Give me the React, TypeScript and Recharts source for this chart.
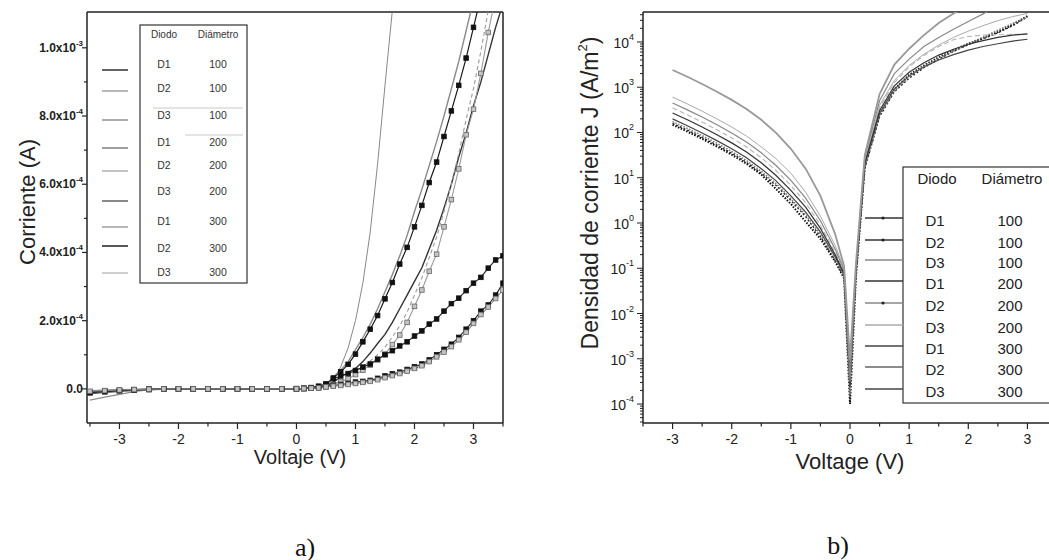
import React from 'react';
import { LineChart, Line, XAxis, YAxis, ReferenceLine, Customized } from 'recharts';

const SANS = '"Liberation Sans", Arial, Helvetica, sans-serif';
const SERIF = '"Liberation Serif", "Times New Roman", Times, serif';
const INK = '#222';

// ---------- Panel a) : current in units of 1e-4 A ----------
const voltA = [
  -3.5, -3.25, -3, -2.75, -2.5, -2.25, -2, -1.75, -1.5, -1.25, -1, -0.75, -0.5, -0.25, 0,
  0.125, 0.25, 0.375, 0.5, 0.625, 0.75, 0.875, 1,
  1.125, 1.25, 1.375, 1.5, 1.625, 1.75, 1.875, 2,
  2.125, 2.25, 2.375, 2.5, 2.625, 2.75, 2.875, 3,
  3.125, 3.25, 3.375, 3.5,
];
const aD1_100 = [
  -0.1, -0.07, -0.05, -0.03, -0.02, -0.01, 0, 0, 0, 0, 0, 0, 0, 0, 0,
  0.01, 0.03, 0.06, 0.12, 0.32, 0.5, 0.72, 1.02,
  1.38, 1.75, 2.15, 2.64, 3.12, 3.66, 4.15, 4.75,
  5.38, 6.05, 6.65, 7.4, 8.15, 8.9, 9.7, 10.6,
  11.5, null, null, null,
];
const aD2_100 = [
  -0.33, -0.24, -0.16, -0.08, -0.02, 0, 0, 0, 0, 0, 0, 0, 0, 0, 0,
  0.01, 0.03, 0.06, 0.12, 0.35, 0.55, 0.8, 1.15,
  1.5, 1.9, 2.35, 2.85, 3.35, 3.9, 4.5, 5.2,
  5.85, 6.55, 7.25, 8.0, 8.8, 9.6, 10.5, 11.4,
  null, null, null, null,
];
const aD3_100 = [
  -0.05, -0.03, -0.02, -0.01, 0, 0, 0, 0, 0, 0, 0, 0, 0, 0, 0,
  0.01, 0.02, 0.03, 0.05, 0.25, 0.65, 1.2, 2.0,
  3.1, 4.6, 6.6, 8.9, 11.1, 13.8, null, null,
  null, null, null, null, null, null, null, null,
  null, null, null, null,
];
const aD1_200 = [
  -0.14, -0.1, -0.07, -0.04, -0.02, -0.01, 0, 0, 0, 0, 0, 0, 0, 0, 0,
  0.01, 0.02, 0.04, 0.08, 0.2, 0.35, 0.48, 0.6,
  0.8, 1.05, 1.33, 1.6, 1.95, 2.35, 2.75, 3.15,
  3.55, 4.1, 4.65, 5.3, 6.0, 6.8, 7.5, 8.3,
  9.0, 9.8, 10.6, 11.3,
];
const aD2_200 = [
  -0.12, -0.09, -0.06, -0.04, -0.02, -0.01, 0, 0, 0, 0, 0, 0, 0, 0, 0,
  0.01, 0.02, 0.03, 0.05, 0.12, 0.2, 0.3, 0.42,
  0.55, 0.7, 0.85, 1.02, 1.3, 1.58, 1.95, 2.42,
  2.9, 3.45, 3.95, 4.75, 5.55, 6.45, 7.45, 8.2,
  9.25, 10.45, 11.5, null,
];
const aD3_200 = [
  -0.08, -0.06, -0.04, -0.02, -0.01, 0, 0, 0, 0, 0, 0, 0, 0, 0, 0,
  0.01, 0.02, 0.04, 0.06, 0.14, 0.24, 0.35, 0.5,
  0.65, 0.82, 1.0, 1.22, 1.52, 1.85, 2.25, 2.75,
  3.25, 3.85, 4.45, 5.2, 6.0, 6.9, 7.9, 8.8,
  9.9, 11.1, 12.2, null,
];
const aD1_300 = [
  -0.09, -0.06, -0.04, -0.02, -0.01, 0, 0, 0, 0, 0, 0, 0, 0, 0, 0.01,
  0.02, 0.04, 0.08, 0.15, 0.3, 0.38, 0.45, 0.54,
  0.64, 0.73, 0.87, 1.0, 1.12, 1.26, 1.38, 1.55,
  1.7, 1.9, 2.05, 2.28, 2.5, 2.66, 2.88, 3.1,
  3.27, 3.54, 3.78, 3.9,
];
const aD2_300 = [
  -0.11, -0.08, -0.05, -0.03, -0.01, 0, 0, 0, 0, 0, 0, 0, 0, 0, 0,
  0.01, 0.02, 0.04, 0.08, 0.1, 0.13, 0.16, 0.2,
  0.22, 0.25, 0.31, 0.38, 0.44, 0.49, 0.57, 0.65,
  0.73, 0.85, 1.0, 1.16, 1.31, 1.51, 1.75, 2.0,
  2.28, 2.46, 2.75, 3.1,
];
const aD3_300 = [
  -0.07, -0.05, -0.03, -0.02, -0.01, 0, 0, 0, 0, 0, 0, 0, 0, 0, 0,
  0.01, 0.02, 0.03, 0.06, 0.08, 0.1, 0.13, 0.16,
  0.19, 0.22, 0.27, 0.33, 0.39, 0.45, 0.52, 0.6,
  0.68, 0.8, 0.94, 1.08, 1.24, 1.44, 1.66, 1.92,
  2.18, 2.4, 2.65, 2.9,
];

// ---------- Panel b) : log10 of current density J (A/m^2) ----------
const voltB = [
  -3, -2.75, -2.5, -2.25, -2, -1.75, -1.5, -1.25, -1, -0.75, -0.5, -0.25, -0.1, 0,
  0.1, 0.25, 0.5, 0.75, 1, 1.25, 1.5, 1.75, 2, 2.25, 2.5, 2.75, 3,
];
const bD1_100 = [2.17, 2.02, 1.86, 1.69, 1.51, 1.31, 1.07, 0.75, 0.42, 0.03, -0.35, -0.85, -1.22, -4.0,
  -1.2, 1.25, 2.4, 2.95, 3.27, 3.48, 3.66, 3.82, 3.96, 4.09, 4.22, 4.38, 4.57];
const bD2_100 = [2.2, 2.05, 1.89, 1.72, 1.54, 1.34, 1.1, 0.83, 0.5, 0.14, -0.3, -0.83, -1.2, -3.7,
  -1.15, 1.2, 2.35, 2.9, 3.2, 3.43, 3.62, 3.79, 3.94, 4.07, 4.2, 4.36, 4.55];
const bD3_100 = [2.78, 2.63, 2.47, 2.3, 2.12, 1.92, 1.68, 1.42, 1.1, 0.68, 0.15, -0.5, -1.0, -3.3,
  -1.05, 1.35, 2.6, 3.15, 3.48, 3.73, 3.93, 4.1, 4.24, 4.36, 4.47, 4.56, 4.63];
const bD1_200 = [2.3, 2.15, 1.99, 1.82, 1.64, 1.44, 1.2, 0.93, 0.6, 0.24, -0.2, -0.75, -1.15, -3.4,
  -1.12, 1.28, 2.42, 2.96, 3.25, 3.45, 3.6, 3.72, 3.82, 3.9, 3.96, 4.02, 4.06];
const bD2_200 = [2.24, 2.09, 1.93, 1.76, 1.58, 1.38, 1.14, 0.87, 0.54, 0.18, -0.25, -0.8, -1.18, -3.8,
  -1.18, 1.22, 2.38, 2.92, 3.24, 3.46, 3.64, 3.8, 3.95, 4.1, 4.26, 4.41, 4.55];
const bD3_200 = [2.54, 2.39, 2.23, 2.06, 1.88, 1.68, 1.44, 1.16, 0.83, 0.45, -0.05, -0.65, -1.1, -3.2,
  -1.1, 1.35, 2.55, 3.1, 3.45, 3.7, 3.9, 4.05, 4.12, 4.15, 4.16, 4.17, 4.17];
const bD1_300 = [2.43, 2.28, 2.12, 1.95, 1.77, 1.57, 1.33, 1.05, 0.72, 0.35, -0.12, -0.7, -1.12, -3.6,
  -1.1, 1.32, 2.48, 3.03, 3.33, 3.54, 3.71, 3.84, 3.95, 4.03, 4.1, 4.15, 4.18];
const bD2_300 = [2.65, 2.5, 2.34, 2.17, 1.99, 1.79, 1.55, 1.27, 0.94, 0.55, 0.05, -0.58, -1.05, -3.5,
  -1.0, 1.45, 2.7, 3.3, 3.62, 3.9, 4.1, 4.28, 4.45, 4.62, 4.78, null, null];
const bD3_300 = [3.38, 3.23, 3.07, 2.9, 2.72, 2.52, 2.28, 1.99, 1.64, 1.2, 0.6, -0.25, -0.95, -3.0,
  -0.9, 1.5, 2.85, 3.5, 3.85, 4.15, 4.42, 4.63, 4.8, null, null, null, null];

// ---------- labels / ticks ----------
const diodeLabels = ['D1', 'D2', 'D3', 'D1', 'D2', 'D3', 'D1', 'D2', 'D3'];
const diameterLabels = ['100', '100', '100', '200', '200', '200', '300', '300', '300'];
const headerLabels = ['Diodo', 'Diámetro'];
const xTicksAll = [-3.5, -3, -2.5, -2, -1.5, -1, -0.5, 0, 0.5, 1, 1.5, 2, 2.5, 3, 3.5];
const yTicksA = [0, 1, 2, 3, 4, 5, 6, 7, 8, 9, 10];
const decadesB = [-5, -4, -3, -2, -1, 0, 1, 2, 3, 4];
const mantissasB = [1, 2, 3, 4, 5, 6, 7, 8, 9];

const Y_DOMAIN_B: [number, number] = [3.81e-5, 4.59e4];
const yTicksB: number[] = [];
decadesB.forEach((e) => mantissasB.forEach((m) => {
  const v = m * Math.pow(10, e);
  if (v >= Y_DOMAIN_B[0] && v <= Y_DOMAIN_B[1]) yTicksB.push(v);
}));

// ---------- series styles ----------
type SA = { key: string; values: (number | null)[]; stroke: string; width: number; dash?: string; marker?: 'black' | 'gray' };
const seriesA: SA[] = [
  { key: 'a1', values: aD1_100, stroke: '#1a1a1a', width: 1.2, marker: 'black' },
  { key: 'a2', values: aD2_100, stroke: '#8a8a8a', width: 1.4 },
  { key: 'a3', values: aD3_100, stroke: '#6a6a6a', width: 0.8 },
  { key: 'a4', values: aD1_200, stroke: '#333333', width: 1.4 },
  { key: 'a5', values: aD2_200, stroke: '#9a9a9a', width: 1.1, marker: 'gray' },
  { key: 'a6', values: aD3_200, stroke: '#999999', width: 1.1, dash: '4 3' },
  { key: 'a7', values: aD1_300, stroke: '#222222', width: 1.1, marker: 'black' },
  { key: 'a8', values: aD2_300, stroke: '#222222', width: 1.1, marker: 'black' },
  { key: 'a9', values: aD3_300, stroke: '#888888', width: 1.1, marker: 'gray' },
];
type SB = { key: string; logs: (number | null)[]; stroke: string; width: number; dash?: string };
const seriesB: SB[] = [
  { key: 'b1', logs: bD1_100, stroke: '#111111', width: 2, dash: '1.5 1.5' },
  { key: 'b2', logs: bD2_100, stroke: '#222222', width: 1.4, dash: '2 2' },
  { key: 'b3', logs: bD3_100, stroke: '#aaaaaa', width: 1 },
  { key: 'b4', logs: bD1_200, stroke: '#444444', width: 1.2 },
  { key: 'b5', logs: bD2_200, stroke: '#777777', width: 1.5, dash: '1.5 1.5' },
  { key: 'b6', logs: bD3_200, stroke: '#b5b5b5', width: 1.1, dash: '5 3' },
  { key: 'b7', logs: bD1_300, stroke: '#333333', width: 1.2 },
  { key: 'b8', logs: bD2_300, stroke: '#888888', width: 1.2 },
  { key: 'b9', logs: bD3_300, stroke: '#999999', width: 1.8 },
];

const rowsA = voltA.map((v, i) => {
  const r: any = { v };
  seriesA.forEach((s) => { r[s.key] = s.values[i]; });
  return r;
});
const rowsB = voltB.map((v, i) => {
  const r: any = { v };
  seriesB.forEach((s) => { const l = s.logs[i]; r[s.key] = l == null ? null : Math.pow(10, l); });
  return r;
});

// ---------- renderers ----------
const squareDot = (kind: 'black' | 'gray') => (p: any) => {
  const { cx, cy, index } = p;
  if (cx == null || cy == null || isNaN(cx) || isNaN(cy)) return <g key={`d${index}`} />;
  const fill = kind === 'black' ? '#111' : '#c4c4c4';
  const stroke = kind === 'black' ? '#111' : '#666';
  return <rect key={`d${index}`} x={cx - 2.3} y={cy - 2.3} width={4.6} height={4.6} fill={fill} stroke={stroke} strokeWidth={0.8} />;
};

const XTick = (p: any) => {
  const { x, y, payload } = p;
  const v = payload.value;
  const major = Number.isInteger(v);
  return (
    <g>
      <line x1={x} x2={x} y1={y} y2={y + (major ? 6 : 3.5)} stroke={INK} strokeWidth={1.2} />
      {major && Math.abs(v) < 3.4 ? (
        <text x={x} y={y + 16} textAnchor="middle" dominantBaseline="central" fontFamily={SANS} fontSize={14} fill={INK}>{v}</text>
      ) : null}
    </g>
  );
};

const YTickA = (p: any) => {
  const { x, y, payload } = p;
  const v = payload.value;
  const major = v % 2 === 0;
  let label: any = null;
  if (major) {
    if (v === 0) label = '0.0';
    else if (v === 10) label = <>1.0x10<tspan dy={-5} fontSize={8}>-3</tspan></>;
    else label = <>{`${v}.0x10`}<tspan dy={-5} fontSize={8}>-4</tspan></>;
  }
  return (
    <g>
      <line x1={x} x2={x - (major ? 5 : 3)} y1={y} y2={y} stroke={INK} strokeWidth={1.2} />
      {label != null ? (
        <text x={x - 4} y={y} textAnchor="end" dominantBaseline="central" fontFamily={SANS} fontWeight="bold" fontSize={12} fill={INK}>{label}</text>
      ) : null}
    </g>
  );
};

const YTickB = (p: any) => {
  const { x, y, payload } = p;
  const v = payload.value;
  const lg = Math.log10(v);
  const e = Math.round(lg);
  const major = Math.abs(lg - e) < 1e-6;
  return (
    <g>
      <line x1={x} x2={x - (major ? 6 : 3)} y1={y} y2={y} stroke={INK} strokeWidth={1} />
      {major ? (
        <text x={x - 9} y={y + 1} textAnchor="end" dominantBaseline="central" fontFamily={SANS} fontSize={14} fill={INK}>
          10<tspan dy={-6} fontSize={9}>{e}</tspan>
        </text>
      ) : null}
    </g>
  );
};

const legendColorsA = ['#222', '#9a9a9a', '#888', '#777', '#aaa', '#555', '#999', '#111', '#bbb'];
const legendTextYA = [64, 88, 115, 142, 165, 191, 221, 248, 272];
const legendLineYA = [70, 91, 120, 148, 171, 201, 227, 246, 273];

const DecorA = () => (
  <g>
    <rect x={140} y={25} width={107} height={258} fill="#fff" stroke="#333" strokeWidth={1.2} />
    <line x1={153} x2={243} y1={108} y2={108} stroke="#bbb" strokeWidth={0.8} />
    <line x1={185} x2={243} y1={135} y2={135} stroke="#bbb" strokeWidth={0.8} />
    <text x={164} y={34} textAnchor="middle" dominantBaseline="central" fontFamily={SANS} fontSize={10} fill="#333">{headerLabels[0]}</text>
    <text x={218} y={34} textAnchor="middle" dominantBaseline="central" fontFamily={SANS} fontSize={10} fill="#333">{headerLabels[1]}</text>
    {diodeLabels.map((d, i) => (
      <g key={i}>
        <line x1={102} x2={128} y1={legendLineYA[i]} y2={legendLineYA[i]} stroke={legendColorsA[i]} strokeWidth={1.4} />
        <text x={164} y={legendTextYA[i]} textAnchor="middle" dominantBaseline="central" fontFamily={SANS} fontSize={10.5} fill="#333">{d}</text>
        <text x={218} y={legendTextYA[i]} textAnchor="middle" dominantBaseline="central" fontFamily={SANS} fontSize={10.5} fill="#333">{diameterLabels[i]}</text>
      </g>
    ))}
    <text x={27} y={202} transform="rotate(-90 27 202)" textAnchor="middle" dominantBaseline="central" fontFamily={SANS} fontSize={22} fill={INK}>Corriente (A)</text>
    <text x={300} y={457} textAnchor="middle" dominantBaseline="central" fontFamily={SANS} fontSize={20} fill={INK}>Voltaje (V)</text>
    <text x={305} y={547} textAnchor="middle" dominantBaseline="central" fontFamily={SERIF} fontSize={26} fill="#111">a)</text>
  </g>
);

const legendColorsB = ['#333', '#333', '#888', '#333', '#888', '#aaa', '#444', '#666', '#444'];
const legendTextYB = [220, 242, 262, 283, 305, 327, 348, 369, 391];
const legendDotsB = [true, true, false, false, true, false, false, false, false];

const DecorB = () => (
  <g>
    <rect x={363} y={167} width={200} height={236} fill="#fff" stroke="#333" strokeWidth={1.2} />
    <text x={397} y={178} textAnchor="middle" dominantBaseline="central" fontFamily={SANS} fontSize={15} fill="#222">{headerLabels[0]}</text>
    <text x={472} y={178} textAnchor="middle" dominantBaseline="central" fontFamily={SANS} fontSize={15} fill="#222">{headerLabels[1]}</text>
    {diodeLabels.map((d, i) => (
      <g key={i}>
        <line x1={325} x2={363} y1={legendTextYB[i] - 2} y2={legendTextYB[i] - 2} stroke={legendColorsB[i]} strokeWidth={1.3} />
        {legendDotsB[i] ? <circle cx={343} cy={legendTextYB[i] - 2} r={1.6} fill="#222" /> : null}
        <text x={395} y={legendTextYB[i]} textAnchor="middle" dominantBaseline="central" fontFamily={SANS} fontSize={15} fill="#222">{d}</text>
        <text x={470} y={legendTextYB[i]} textAnchor="middle" dominantBaseline="central" fontFamily={SANS} fontSize={15} fill="#222">{diameterLabels[i]}</text>
      </g>
    ))}
    <text x={50} y={193} transform="rotate(-90 50 193)" textAnchor="middle" dominantBaseline="central" fontFamily={SANS} fontSize={23} fill={INK}>
      Densidad de corriente J (A/m<tspan dy={-8} fontSize={13}>2</tspan><tspan dy={8}>)</tspan>
    </text>
    <text x={310} y={461} textAnchor="middle" dominantBaseline="central" fontFamily={SANS} fontSize={22} fill={INK}>Voltage (V)</text>
    <text x={298} y={545} textAnchor="middle" dominantBaseline="central" fontFamily={SERIF} fontSize={26} fill="#111">b)</text>
  </g>
);

const axisLine = { stroke: INK, strokeWidth: 1.5 };

export default function App() {
  return (
    <div style={{ position: 'absolute', left: 0, top: 0, width: 1049, height: 560, overflow: 'hidden', background: '#fff' }}>
      <div style={{ position: 'absolute', left: 0, top: 0 }}>
        <LineChart width={520} height={560} data={rowsA} margin={{ top: 12, right: 17, bottom: 107, left: 0 }}>
          <XAxis dataKey="v" type="number" domain={[-3.55, 3.5]} allowDataOverflow ticks={xTicksAll} interval={0}
            tickSize={0} tickMargin={0} tickLine={false} tick={(p: any) => <XTick {...p} />} height={30} axisLine={axisLine} />
          <YAxis type="number" domain={[-1, 11.05]} allowDataOverflow ticks={yTicksA} interval={0} width={87}
            tickSize={0} tickMargin={0} tickLine={false} tick={(p: any) => <YTickA {...p} />} axisLine={axisLine} />
          <ReferenceLine y={11.05} stroke={INK} strokeWidth={1.5} ifOverflow="visible" />
          <ReferenceLine x={3.5} stroke={INK} strokeWidth={1.5} ifOverflow="visible" />
          {seriesA.map((s) => (
            <Line key={s.key} dataKey={s.key} type="linear" stroke={s.stroke} strokeWidth={s.width}
              strokeDasharray={s.dash} dot={s.marker ? squareDot(s.marker) : false} activeDot={false}
              isAnimationActive={false} connectNulls={false} />
          ))}
          <Customized component={DecorA} />
        </LineChart>
      </div>
      <div style={{ position: 'absolute', left: 540, top: 0 }}>
        <LineChart width={530} height={560} data={rowsB} margin={{ top: 12, right: 13, bottom: 107, left: 0 }}>
          <XAxis dataKey="v" type="number" domain={[-3.5, 3.5]} allowDataOverflow ticks={xTicksAll} interval={0}
            tickSize={0} tickMargin={0} tickLine={false} tick={(p: any) => <XTick {...p} />} height={30} axisLine={axisLine} />
          <YAxis type="number" scale="log" domain={Y_DOMAIN_B} allowDataOverflow ticks={yTicksB} interval={0} width={103}
            tickSize={0} tickMargin={0} tickLine={false} tick={(p: any) => <YTickB {...p} />} axisLine={axisLine} />
          <ReferenceLine y={Y_DOMAIN_B[1]} stroke={INK} strokeWidth={1.5} ifOverflow="visible" />
          {seriesB.map((s) => (
            <Line key={s.key} dataKey={s.key} type="linear" stroke={s.stroke} strokeWidth={s.width}
              strokeDasharray={s.dash} dot={false} activeDot={false}
              isAnimationActive={false} connectNulls={false} />
          ))}
          <Customized component={DecorB} />
        </LineChart>
      </div>
    </div>
  );
}
